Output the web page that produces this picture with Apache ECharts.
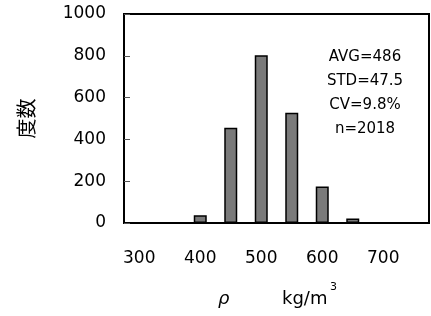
<!DOCTYPE html>
<html>
<head>
<meta charset="utf-8">
<script src="https://cdn.jsdelivr.net/npm/echarts@6/dist/echarts.min.js"></script>
<style>
  html, body { margin: 0; padding: 0; background: #fff; }
  #chart { width: 431px; height: 316px; }
</style>
</head>
<body>
<div id="chart"></div>
<script>
// bin start (kg/m3) and counts per bin
const bins = ['300', '350', '400', '450', '500', '550', '600', '650', '700', '750'];
const counts = [0, 0, 37, 456, 803, 527, 175, 22, 0, 0];
const statLines = ['AVG=486', 'STD=47.5', 'CV=9.8%', 'n=2018'];
const yTicks = { min: 0, max: 1000, step: 200 };

const chart = echarts.init(document.getElementById('chart'));
const font = 'DejaVu Sans';

const option = {
  animation: false,
  grid: {
    left: 124, right: 2, top: 14, bottom: 93,
    show: true, borderColor: '#000', borderWidth: 2
  },
  xAxis: {
    type: 'category',
    data: bins,
    axisLine: { lineStyle: { color: '#000', width: 2 } },
    axisTick: { inside: true, length: 6, interval: 0, lineStyle: { color: '#333' } },
    axisLabel: { interval: 1, margin: 27, color: '#000', fontSize: 17, fontFamily: font }
  },
  yAxis: {
    type: 'value',
    min: yTicks.min, max: yTicks.max, interval: yTicks.step,
    name: '度数',
    nameLocation: 'middle',
    nameGap: 88,
    nameTextStyle: { color: '#000', fontSize: 20, fontFamily: 'Noto Sans CJK JP' },
    splitLine: { show: false },
    axisLine: { show: true, lineStyle: { color: '#000', width: 2 } },
    axisTick: { show: true, inside: true, length: 6, lineStyle: { color: '#555' } },
    axisLabel: {
      margin: 18, color: '#000', fontSize: 17, fontFamily: font,
      formatter: v => String(v)
    }
  },
  graphic: [
    {
      type: 'text', x: 365, y: 45,
      style: {
        text: statLines.join('\n'), textAlign: 'center',
        lineHeight: 24, fontSize: 15, fontFamily: font, fill: '#000'
      }
    },
    {
      type: 'text', x: 218, y: 290,
      style: { text: 'ρ', fontSize: 18, fontStyle: 'italic', fontFamily: font, fill: '#000' }
    },
    {
      type: 'text', x: 282, y: 290,
      style: { text: 'kg/m', fontSize: 18, fontFamily: font, fill: '#000' }
    },
    {
      type: 'text', x: 330, y: 282,
      style: { text: '3', fontSize: 11, fontFamily: font, fill: '#000' }
    }
  ],
  series: [{
    type: 'bar',
    data: counts,
    barWidth: 13,
    itemStyle: { color: '#7a7a7a', borderColor: '#000', borderWidth: 1.5 }
  }]
};

chart.setOption(option);
</script>
</body>
</html>
